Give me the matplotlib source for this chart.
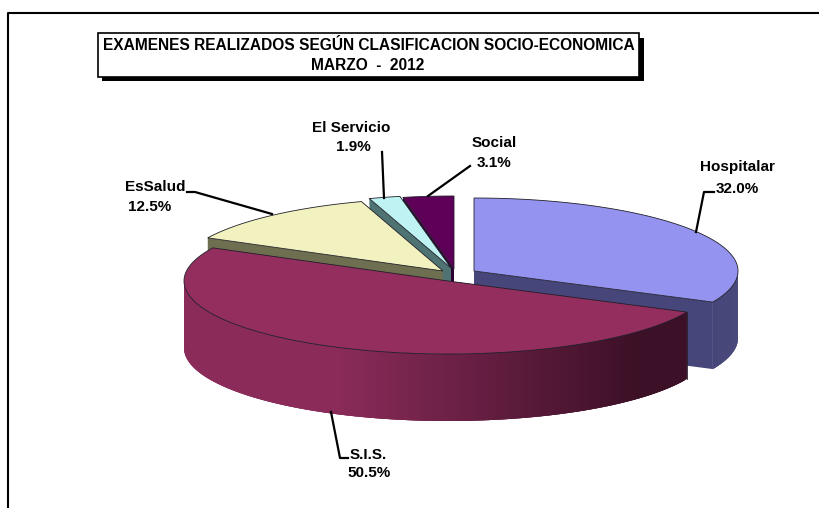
import numpy as np
import matplotlib
matplotlib.use('Agg')
import matplotlib.pyplot as plt
from matplotlib.collections import PolyCollection
from matplotlib.colors import to_rgb

labels = ['Hospitalar', 'S.I.S.', 'EsSalud', 'El Servicio', 'Social']
values = [32.0, 50.5, 12.5, 1.9, 3.1]
title_lines = ['EXAMENES REALIZADOS SEGÚN CLASIFICACION SOCIO-ECONOMICA', 'MARZO  -  2012']

top_colors = ['#9494f0', '#932e5e', '#f2f2c0', '#bff2f2', '#5e0058']
wall_colors = ['#46467a', '#8a2b59', '#6e6e50', '#4f7272', '#2c0030']
centers = [(474, 271), (448, 281), (443, 271), (451, 268), (454, 269)]
label_pos = [(737, 167), (368, 455), (155, 187), (351, 128), (494, 143)]
value_pos = [(737, 189), (369, 473), (150, 207), (353, 147), (494, 163)]
leaders = [
    [(696, 232), (704, 192), (714, 192)],
    [(331, 412), (340, 458), (348, 458)],
    [(187, 192), (195, 192), (272, 214)],
    [(382, 152), (384, 198)],
    [(470, 166), (428, 196)],
]
RX, RY, DEPTH = 264, 73, 67


def rim(cx, cy, a, b, n=120):
    # angles in degrees, clockwise from the top of the pie
    t = np.radians(np.linspace(a, b, n))
    return np.column_stack([cx + RX * np.sin(t), cy - RY * np.cos(t)])


def draw_slice(ax, i, a, b):
    cx, cy = centers[i]
    edge = '#20202a'
    # cut faces
    for ang in (a, b):
        p = rim(cx, cy, ang, ang, 1)[0]
        face = [(cx, cy), p, (p[0], p[1] + DEPTH), (cx, cy + DEPTH)]
        ax.fill(*zip(*face), color=wall_colors[i], lw=0)
    # outer wall, front half only
    lo, hi = max(a, 90), min(b, 270)
    if hi > lo:
        pts = rim(cx, cy, lo, hi, 200)
        quads = []
        cols = []
        base = np.array(to_rgb(wall_colors[i]))
        dark = np.array(to_rgb('#3c1026'))
        for k in range(len(pts) - 1):
            # overlap the next step so no seams show
            p, q = pts[k], pts[min(k + 3, len(pts) - 1)]
            quads.append([p, q, (q[0], q[1] + DEPTH), (p[0], p[1] + DEPTH)])
            if labels[i] == 'S.I.S.':
                f = np.clip((p[0] - 340) / (640 - 340), 0, 1)
                cols.append(base * (1 - f) + dark * f)
            else:
                cols.append(base)
        ax.add_collection(PolyCollection(quads, facecolors=cols, edgecolors='none'))
        if lo == a:
            ax.plot([pts[0, 0]] * 2, [pts[0, 1], pts[0, 1] + DEPTH], color=edge, lw=0.6)
    # top
    top = np.vstack([[(cx, cy)], rim(cx, cy, a, b)])
    ax.fill(top[:, 0], top[:, 1], facecolor=top_colors[i], edgecolor=edge, lw=0.6)


fig = plt.figure(figsize=(8.19, 5.08), dpi=100)
ax = fig.add_axes([0, 0, 1, 1])
ax.set_xlim(0, 819)
ax.set_ylim(508, 0)
ax.axis('off')
plt.rcParams['font.family'] = ['Liberation Sans', 'DejaVu Sans']

# chart frame
ax.plot([7.5, 7.5, 819], [508, 13, 13], color='black', lw=1.5)

# angles
stops = np.concatenate([[0], np.cumsum(values)]) * 360.0 / np.sum(values)
for i in [4, 3, 2, 0, 1]:
    draw_slice(ax, i, stops[i], stops[i + 1])

for pts in leaders:
    ax.plot(*zip(*pts), color='black', lw=1.6)

for i, name in enumerate(labels):
    ax.text(*label_pos[i], name, ha='center', va='center', fontsize=11, fontweight='bold')
    ax.text(*value_pos[i], '%.1f%%' % values[i], ha='center', va='center', fontsize=11, fontweight='bold')

# title box with shadow
ax.fill([102, 644, 644, 102], [38, 38, 81, 81], color='black', lw=0)
ax.fill([98, 639, 639, 98], [33, 33, 77, 77], facecolor='white', edgecolor='black', lw=1.2)
ax.text(369, 46, title_lines[0], ha='center', va='center', fontsize=11.2, fontweight='bold')
ax.text(368, 66, title_lines[1], ha='center', va='center', fontsize=11.2, fontweight='bold')

fig.savefig('out.png', dpi=100)
